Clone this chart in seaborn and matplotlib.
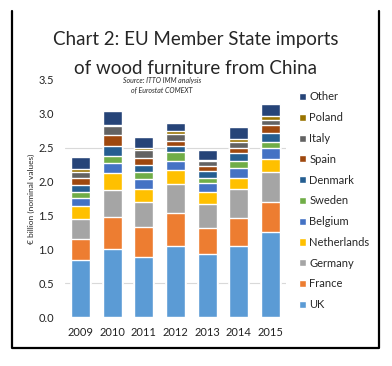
import numpy as np
import pandas as pd
import matplotlib
matplotlib.use("Agg")
import matplotlib.pyplot as plt
from matplotlib.lines import Line2D
import seaborn as sns

# data (EUR billion)
years = ['2009', '2010', '2011', '2012', '2013', '2014', '2015']
countries = ['UK', 'France', 'Germany', 'Netherlands', 'Belgium', 'Sweden',
             'Denmark', 'Spain', 'Italy', 'Poland', 'Other']
uk          = [0.84, 1.00, 0.89, 1.05, 0.93, 1.05, 1.26]
france      = [0.31, 0.47, 0.44, 0.49, 0.39, 0.41, 0.44]
germany     = [0.30, 0.41, 0.37, 0.43, 0.35, 0.43, 0.44]
netherlands = [0.19, 0.24, 0.19, 0.20, 0.18, 0.17, 0.20]
belgium     = [0.12, 0.16, 0.15, 0.14, 0.13, 0.14, 0.15]
sweden      = [0.09, 0.10, 0.10, 0.12, 0.08, 0.11, 0.10]
denmark     = [0.10, 0.15, 0.10, 0.10, 0.10, 0.11, 0.13]
spain       = [0.11, 0.16, 0.11, 0.07, 0.07, 0.08, 0.11]
italy       = [0.08, 0.13, 0.12, 0.10, 0.07, 0.09, 0.08]
poland      = [0.04, 0.02, 0.03, 0.04, 0.02, 0.04, 0.06]
other       = [0.18, 0.20, 0.16, 0.13, 0.15, 0.17, 0.17]
colors = ['#5B9BD5', '#ED7D31', '#A5A5A5', '#FFC000', '#4472C4', '#70AD47',
          '#255E91', '#9E480E', '#636363', '#997300', '#264478']

df = pd.DataFrame([uk, france, germany, netherlands, belgium, sweden,
                   denmark, spain, italy, poland, other],
                  index=countries, columns=years)
cum = df.cumsum()

sns.set_style('white')
plt.rcParams['font.family'] = ['Lato', 'DejaVu Sans']

fig = plt.figure(figsize=(3.92, 3.66), dpi=100)
ax = fig.add_axes([65/392, 1-317/366, 221/392, 237/366])

# stacked bars: draw cumulative totals from the top layer down
for name, col in zip(countries[::-1], colors[::-1]):
    sns.barplot(x=years, y=cum.loc[name].values, color=col, label=name,
                width=0.6, saturation=1, ax=ax, zorder=3)

ax.set_ylim(0, 3.5)
ax.set_yticks(np.arange(0, 3.51, 0.5))
ax.set_yticklabels(['%.1f' % v for v in np.arange(0, 3.51, 0.5)])
for g in [0.5, 2.5]:
    ax.axhline(g, color='#D9D9D9', lw=0.8, zorder=1)
sns.despine(ax=ax, left=True, bottom=True)
ax.tick_params(axis='both', length=0, labelsize=8, colors='#222222')
ax.tick_params(axis='y', pad=8)
ax.tick_params(axis='x', pad=7)
ax.set_ylabel('€ billion (nominal values)', fontsize=6, labelpad=2)

h, l = ax.get_legend_handles_labels()
if ax.get_legend():
    ax.get_legend().remove()
fig.legend(h, l, loc='upper left', bbox_to_anchor=(295/392, 1-87/366),
           frameon=False, fontsize=8, handlelength=0.6, handleheight=0.6,
           handletextpad=0.3, labelspacing=0.88, borderaxespad=0)

fig.text(0.5, 1-40/366, 'Chart 2: EU Member State imports', ha='center',
         va='center', fontsize=13.5)
fig.text(0.5, 1-69/366, 'of wood furniture from China', ha='center',
         va='center', fontsize=13.5)
fig.text(162/392, 1-85/366, 'Source: ITTO IMM analysis\nof Eurostat COMEXT',
         ha='center', va='center', fontsize=5, style='italic',
         linespacing=1.3)

# black frame round the chart
x0, x1, yt, yb = 12/392, 379/392, 1-11/366, 1-348/366
fig.add_artist(Line2D([x0, x0, x1, x1], [yt, yb, yb, yt], color='black',
                      lw=1.6, transform=fig.transFigure))

fig.savefig('out.png', dpi=100)
